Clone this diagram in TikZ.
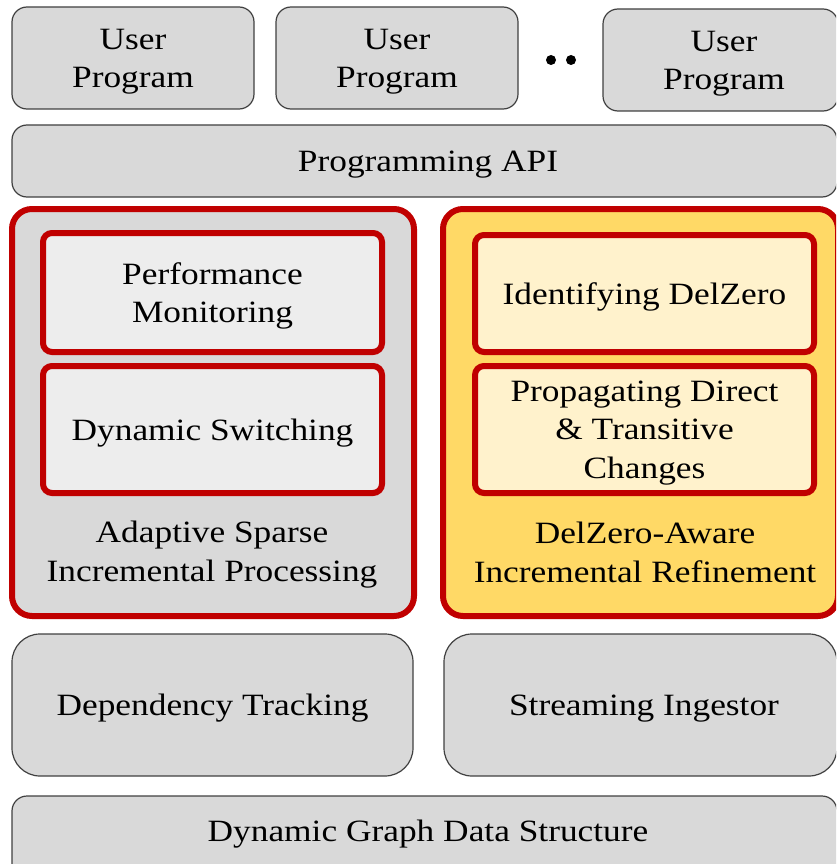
\documentclass[tikz,border=0pt]{standalone}
\usepackage{fontspec}
\setmainfont[FakeStretch=1.14]{Liberation Serif}
\definecolor{boxgray}{HTML}{D9D9D9}
\definecolor{lightgray}{HTML}{EDEDED}
\definecolor{deepred}{HTML}{C00000}
\definecolor{gold}{HTML}{FFD966}
\definecolor{cream}{HTML}{FFF2CC}
\definecolor{edgegray}{HTML}{404040}
\begin{document}
\begin{tikzpicture}[x=1pt,y=-1pt,
  every node/.style={font=\fontsize{31}{38.5}\selectfont, align=center, inner sep=0pt},
  txt/.style={yshift=-3.5pt},
  gbox/.style={draw=edgegray, fill=boxgray, line width=1.2pt, rounded corners=15pt, rectangle},
  outerbox/.style={draw=deepred, line width=6pt, rounded corners=20pt, rectangle},
  innerbox/.style={draw=deepred, line width=6pt, rounded corners=9pt, rectangle},
  dotmark/.style={circle, fill=black, minimum size=10pt}]
\useasboundingbox (0,0) rectangle (836,864);
\clip (0,0) rectangle (836,864);
% top row
\node[gbox, minimum width=242pt, minimum height=102pt] (up1) at (133,58) {};
\node[txt] (up1t) at (up1) {User\\Program};
\node[gbox, minimum width=242pt, minimum height=102pt] (up2) at (397,58) {};
\node[txt] (up2t) at (up2) {User\\Program};
\node[dotmark] (d1) at (551,60) {};
\node[dotmark] (d2) at (571,60) {};
\node[gbox, minimum width=235pt, minimum height=102pt] (up3) at (720.5,60) {};
\node[txt] (up3t) at (724,60) {User\\Program};
% API
\node[gbox, minimum width=825pt, minimum height=72pt] (api) at (424.5,161) {};
\node[txt] (apit) at (428,161) {Programming API};
% left big box
\node[outerbox, fill=boxgray, minimum width=402pt, minimum height=407pt] (asip) at (213,412.5) {};
\node[innerbox, fill=lightgray, minimum width=339pt, minimum height=119pt] (pm) at (212.5,292.5) {};
\node[txt] (pmt) at (pm) {Performance\\Monitoring};
\node[innerbox, fill=lightgray, minimum width=339pt, minimum height=127pt] (ds) at (212.5,429.5) {};
\node[txt] (dst) at (ds) {Dynamic Switching};
\node[txt] (asiplab) at (212,551) {Adaptive Sparse\\Incremental Processing};
% right big box
\node[outerbox, fill=gold, minimum width=395pt, minimum height=407pt] (dzir) at (640.5,412.5) {};
\node[innerbox, fill=cream, minimum width=339pt, minimum height=117pt] (idz) at (644.5,293.5) {};
\node[txt] (idzt) at (idz) {Identifying DelZero};
\node[innerbox, fill=cream, minimum width=339pt, minimum height=127pt] (prop) at (644.5,429.5) {};
\node[txt] (propt) at (prop) {Propagating Direct\\\& Transitive\\Changes};
\node[txt] (dzirlab) at (645,549) {DelZero-Aware\\Incremental Refinement};
% lower row
\node[gbox, rounded corners=28pt, minimum width=401pt, minimum height=142pt] (dep) at (212.5,705) {};
\node[txt] (dept) at (dep) {Dependency Tracking};
\node[gbox, rounded corners=28pt, minimum width=393pt, minimum height=142pt] (si) at (640.5,705) {};
\node[txt] (sit) at (644,705) {Streaming Ingestor};
% bottom
\node[gbox, minimum width=825pt, minimum height=90pt] (dgds) at (424.5,841) {};
\node[txt] (dgdslab) at (428,831) {Dynamic Graph Data Structure};
\end{tikzpicture}
\end{document}
